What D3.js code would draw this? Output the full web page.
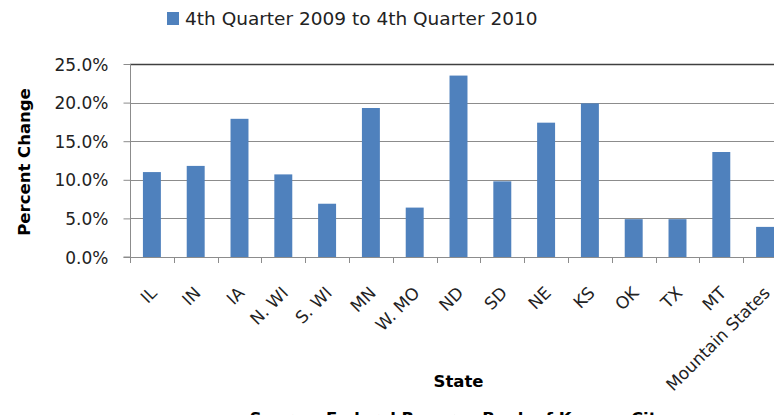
<!DOCTYPE html>
<html><head><meta charset="utf-8">
<script src="https://cdn.jsdelivr.net/npm/d3@7"></script>
<style>html,body{margin:0;padding:0;background:#fff;overflow:hidden}</style>
</head><body>
<svg id="c" width="774" height="415"></svg>
<script>
const categories = ["IL","IN","IA","N. WI","S. WI","MN","W. MO","ND","SD","NE","KS","OK","TX","MT","Mountain States"];
const values = [11.0, 11.8, 17.9, 10.7, 6.9, 19.3, 6.4, 23.5, 9.8, 17.4, 19.9, 4.9, 4.9, 13.6, 3.9];
const yTicks = [0, 5, 10, 15, 20, 25];
const seriesName = "4th Quarter 2009 to 4th Quarter 2010";
const xTitle = "State";
const yTitle = "Percent Change";
const source = "Source: Federal Reserve Bank of Kansas City";

(function () {
const svg = d3.select("#c");
const pLeft = 130, pRight = 787, pTop = 64, pBottom = 257;
const x = d3.scaleBand().domain(categories).range([pLeft, pRight]).paddingInner(0.59).paddingOuter(0.295);
const y = d3.scaleLinear().domain([0, 25]).range([pBottom, pTop]);
const step = x.step();
const font = "DejaVu Sans, sans-serif";

// gridlines
svg.append("g").selectAll("line").data(yTicks.filter(d => d > 0)).join("line")
  .attr("x1", pLeft).attr("x2", pRight)
  .attr("y1", d => Math.round(y(d)) + 0.5).attr("y2", d => Math.round(y(d)) + 0.5)
  .attr("stroke", d => d === 25 ? "#404040" : "#8c8c8c").attr("stroke-width", d => d === 25 ? 1.5 : 1);

// bars
svg.append("g").selectAll("rect").data(values).join("rect")
  .attr("x", (d, i) => x(categories[i]))
  .attr("width", x.bandwidth())
  .attr("y", d => y(d))
  .attr("height", d => y(0) - y(d))
  .attr("fill", "#4F81BD");

// y axis
const yAxis = d3.axisLeft(y).tickValues(yTicks).tickSize(7).tickFormat(d => d.toFixed(1) + "%");
const ya = svg.append("g").attr("transform", `translate(${pLeft + 0.5},0)`).call(yAxis);
ya.select(".domain").attr("stroke", "#8c8c8c").attr("d", `M-7,${y(0)}H0V${y(25)}`);
ya.selectAll(".tick line").attr("stroke", "#8c8c8c");
ya.selectAll(".tick text").attr("font-family", font).attr("font-size", 17).attr("fill", "#222").attr("x", -22).attr("dy", "0.36em");

// x axis baseline and ticks at boundaries
svg.append("line").attr("x1", pLeft).attr("x2", pRight).attr("y1", pBottom + 0.5).attr("y2", pBottom + 0.5).attr("stroke", "#8c8c8c");
svg.append("g").selectAll("line").data(d3.range(categories.length + 1)).join("line")
  .attr("x1", i => Math.round(pLeft + i * step) + 0.5).attr("x2", i => Math.round(pLeft + i * step) + 0.5)
  .attr("y1", pBottom).attr("y2", pBottom + 6).attr("stroke", "#8c8c8c");

// x labels
svg.append("g").selectAll("text").data(categories).join("text")
  .attr("transform", d => `translate(${x(d) + x.bandwidth() / 2 + 6},${pBottom + 37}) rotate(-45)`)
  .attr("text-anchor", "end")
  .attr("font-family", font).attr("font-size", 17).attr("fill", "#222")
  .text(d => d);

// axis titles
svg.append("text").attr("x", (pLeft + pRight) / 2).attr("y", 387).attr("text-anchor", "middle")
  .attr("font-family", font).attr("font-weight", "bold").attr("font-size", 16.5).attr("fill", "#000").text(xTitle);
svg.append("text").attr("transform", `translate(30,162) rotate(-90)`).attr("text-anchor", "middle")
  .attr("font-family", font).attr("font-weight", "bold").attr("font-size", 16.5).attr("fill", "#000").text(yTitle);

// source (cropped at bottom, as in the reference)
svg.append("text").attr("x", (pLeft + pRight) / 2).attr("y", 424).attr("text-anchor", "middle")
  .attr("font-family", font).attr("font-weight", "bold").attr("font-size", 16.5).attr("fill", "#000").text(source);

// legend
svg.append("rect").attr("x", 167).attr("y", 12).attr("width", 12).attr("height", 13).attr("fill", "#4F81BD");
svg.append("text").attr("x", 185).attr("y", 25).attr("font-family", font).attr("font-size", 18.5).attr("fill", "#222").text(seriesName);
})();
</script>
</body></html>
